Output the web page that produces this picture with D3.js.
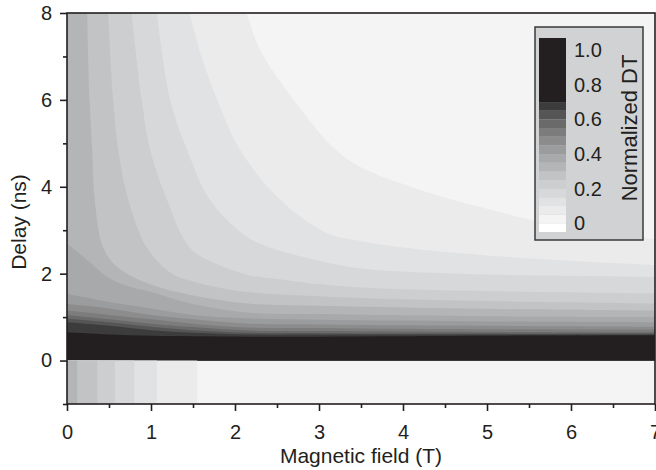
<!DOCTYPE html>
<html>
<head>
<meta charset="utf-8">
<script src="https://cdn.jsdelivr.net/npm/d3@7"></script>
<style>
  body { margin: 0; background: #fff; }
  text { font-family: "Liberation Sans", Arial, sans-serif; fill: #231f20; }
</style>
</head>
<body>
<svg id="chart" width="656" height="470"></svg>
<script>
// contour levels of normalized DT and the fill above each level
const levels = [0.05, 0.1, 0.15, 0.2, 0.25, 0.3, 0.35, 0.4, 0.45, 0.5, 0.55, 0.6, 0.65, 0.7];
const baseColor = "#f4f4f4"; // 0 .. 0.05
const levelColors = ["#ebebec", "#e1e2e3", "#d7d8da", "#cdced0", "#c2c3c5", "#b4b5b7",
  "#a8a9ab", "#9b9c9d", "#8c8c8d", "#7c7c7d", "#6a6a6b", "#555556", "#3c3c3d", "#231f20"];

// contour lines at positive delay, [field (T), delay (ns)]
const contourLines = [
  [[2.14, 8], [2.3, 7.15], [2.7, 6], [3.2, 4.85], [3.5, 4.45], [4.3, 3.87], [5.07, 3.46], [5.6, 3.2], [6.3, 2.95], [7, 2.8]],
  [[1.46, 8], [1.6, 7], [1.79, 6], [2.06, 4.85], [2.54, 3.7], [3.1, 2.93], [3.5, 2.75], [4, 2.6], [5, 2.42], [6, 2.3], [7, 2.2]],
  [[1.07, 8], [1.23, 6], [1.43, 4.85], [1.7, 3.7], [2.14, 2.85], [2.5, 2.55], [3, 2.3], [3.5, 2.12], [4, 2.05], [5, 1.98], [6, 1.95], [7, 1.92]],
  [[0.77, 8], [0.89, 6], [0.99, 4.85], [1.19, 3.7], [1.46, 2.6], [1.75, 2.25], [2.18, 1.96], [2.5, 1.88], [3, 1.76], [3.5, 1.68], [4, 1.64], [5, 1.6], [6, 1.57], [7, 1.54]],
  [[0.49, 8], [0.55, 6], [0.61, 4.85], [0.73, 3.7], [0.95, 2.6], [1.25, 2.0], [1.5, 1.82], [1.75, 1.7], [2.18, 1.57], [3, 1.48], [4, 1.41], [5, 1.37], [6, 1.34], [7, 1.31]],
  [[0.24, 8], [0.27, 6], [0.3, 4.85], [0.33, 3.7], [0.43, 2.6], [0.6, 2.15], [1, 1.75], [1.5, 1.5], [2.18, 1.31], [3, 1.26], [4, 1.22], [5, 1.19], [6, 1.17], [7, 1.15]],
  [[0, 2.7], [0.25, 2.3], [0.5, 1.9], [0.75, 1.7], [1, 1.58], [1.5, 1.3], [2.18, 1.1], [3, 1.07], [4, 1.04], [5, 1.02], [7, 1.0]],
  [[0, 1.54], [0.5, 1.35], [1, 1.2], [1.5, 1.05], [2.18, 0.97], [3, 0.94], [4, 0.92], [5, 0.9], [7, 0.88]],
  [[0, 1.3], [0.5, 1.2], [1, 1.05], [1.5, 0.95], [2.18, 0.85], [3, 0.83], [4, 0.81], [5, 0.8], [7, 0.78]],
  [[0, 1.15], [0.5, 1.05], [1, 0.95], [1.5, 0.85], [2.18, 0.76], [3, 0.75], [4, 0.73], [5, 0.72], [7, 0.71]],
  [[0, 1.05], [0.5, 0.95], [1, 0.85], [1.5, 0.77], [2.18, 0.69], [3, 0.68], [4, 0.67], [5, 0.66], [7, 0.65]],
  [[0, 0.97], [0.5, 0.88], [1, 0.78], [1.5, 0.7], [2.18, 0.64], [3, 0.63], [5, 0.62], [7, 0.62]],
  [[0, 0.88], [0.5, 0.8], [1, 0.7], [1.5, 0.64], [2.18, 0.6], [3, 0.6], [5, 0.6], [7, 0.6]],
  [[0, 0.65], [0.5, 0.6], [1, 0.57], [1.5, 0.56], [2.18, 0.55], [3, 0.55], [4, 0.56], [5, 0.57], [7, 0.58]]
];

// at negative delay each level ends at this field (T); 0 = level not reached
const negativeEdges = [1.55, 1.07, 0.8, 0.57, 0.36, 0.12, 0, 0, 0, 0, 0, 0, 0, 0];

const xTicks = [0, 1, 2, 3, 4, 5, 6, 7];
const xMinorTicks = [0.5, 1.5, 2.5, 3.5, 4.5, 5.5, 6.5];
const yTicks = [0, 2, 4, 6, 8];
const yMinorTicks = [-1, 1, 3, 5, 7];
const legendTicks = [0, 0.2, 0.4, 0.6, 0.8, 1.0];

const svg = d3.select("#chart");
const ink = "#231f20";

const x = d3.scaleLinear().domain([0, 7]).range([67, 655]);
const y = d3.scaleLinear().domain([-1, 8]).range([404, 13]);

svg.append("clipPath").attr("id", "plot-clip")
  .append("rect").attr("x", x(0)).attr("y", y(8)).attr("width", x(7) - x(0)).attr("height", y(-1) - y(8));

const plot = svg.append("g").attr("clip-path", "url(#plot-clip)");
plot.append("rect").attr("x", x(0)).attr("y", y(8)).attr("width", x(7) - x(0)).attr("height", y(-1) - y(8))
  .attr("fill", baseColor);

const line = d3.line().x(d => x(d[0])).y(d => y(d[1])).curve(d3.curveCatmullRom.alpha(0.5));

// region where DT >= level: under the contour line, down to zero delay
function regionPath(pts) {
  let p = line(pts) + `L${x(7) + 2},${y(pts[pts.length - 1][1])}L${x(7) + 2},${y(0)}L${x(0) - 2},${y(0)}`;
  if (pts[0][0] > 0) p += `L${x(0) - 2},${y(8) - 2}L${x(pts[0][0])},${y(8) - 2}`;
  return p + "Z";
}

plot.selectAll("path.level").data(contourLines).join("path").attr("class", "level")
  .attr("d", regionPath)
  .attr("fill", (d, i) => levelColors[i]);

plot.selectAll("rect.neg").data(negativeEdges.filter(b => b > 0)).join("rect").attr("class", "neg")
  .attr("x", x(0)).attr("y", y(0))
  .attr("width", b => x(b) - x(0)).attr("height", y(-1) - y(0))
  .attr("fill", (b, i) => levelColors[i]);

// axes
svg.append("g").attr("transform", `translate(0,${y(-1)})`)
  .call(d3.axisBottom(x).tickValues(xTicks).tickSize(7).tickPadding(14).tickFormat(d3.format("d")));
svg.append("g").attr("transform", `translate(0,${y(-1)})`)
  .call(d3.axisBottom(x).tickValues(xMinorTicks).tickSize(4).tickFormat(""));
svg.append("g").attr("transform", `translate(${x(0)},0)`)
  .call(d3.axisLeft(y).tickValues(yTicks).tickSize(7).tickPadding(8).tickFormat(d3.format("d")));
svg.append("g").attr("transform", `translate(${x(0)},0)`)
  .call(d3.axisLeft(y).tickValues(yMinorTicks).tickSize(4).tickFormat(""));

svg.selectAll(".domain").remove();
svg.selectAll(".tick line").attr("stroke", ink).attr("stroke-width", 1.6);
svg.selectAll(".tick text").attr("font-size", 20).attr("font-family", null).style("fill", ink);

// frame
svg.append("rect").attr("x", x(0)).attr("y", y(8)).attr("width", x(7) - x(0)).attr("height", y(-1) - y(8))
  .attr("fill", "none").attr("stroke", ink).attr("stroke-width", 1.6);

// axis titles
svg.append("text").attr("x", (x(0) + x(7)) / 2).attr("y", 463).attr("text-anchor", "middle")
  .attr("font-size", 21).text("Magnetic field (T)");
svg.append("text").attr("transform", "translate(26,222) rotate(-90)").attr("text-anchor", "middle")
  .attr("font-size", 21).text("Delay (ns)");

// legend
const legend = svg.append("g");
legend.append("rect").attr("x", 535).attr("y", 27).attr("width", 108).attr("height", 213)
  .attr("fill", "#d1d2d4").attr("stroke", "#3a3a3a").attr("stroke-width", 1.5);

const ly = d3.scaleLinear().domain([-0.05, 1.07]).range([232, 38]);
const barLevels = [-0.05, 0].concat(levels);
const barColors = ["#ffffff", baseColor].concat(levelColors);
legend.selectAll("rect.band").data(barLevels).join("rect").attr("class", "band")
  .attr("x", 539).attr("width", 27)
  .attr("y", (d, i) => ly(i + 1 < barLevels.length ? barLevels[i + 1] : 1.07))
  .attr("height", (d, i) => ly(d) - ly(i + 1 < barLevels.length ? barLevels[i + 1] : 1.07))
  .attr("fill", (d, i) => barColors[i]);

legend.selectAll("text.lab").data(legendTicks).join("text").attr("class", "lab")
  .attr("x", 574).attr("y", d => ly(d)).attr("dy", "0.35em")
  .attr("font-size", 20)
  .text(d => d === 0 ? "0" : d3.format(".1f")(d));

legend.append("text").attr("transform", "translate(629,128) rotate(-90)")
  .attr("text-anchor", "middle").attr("dy", "0.35em").attr("font-size", 22)
  .text("Normalized DT");
</script>
</body>
</html>
